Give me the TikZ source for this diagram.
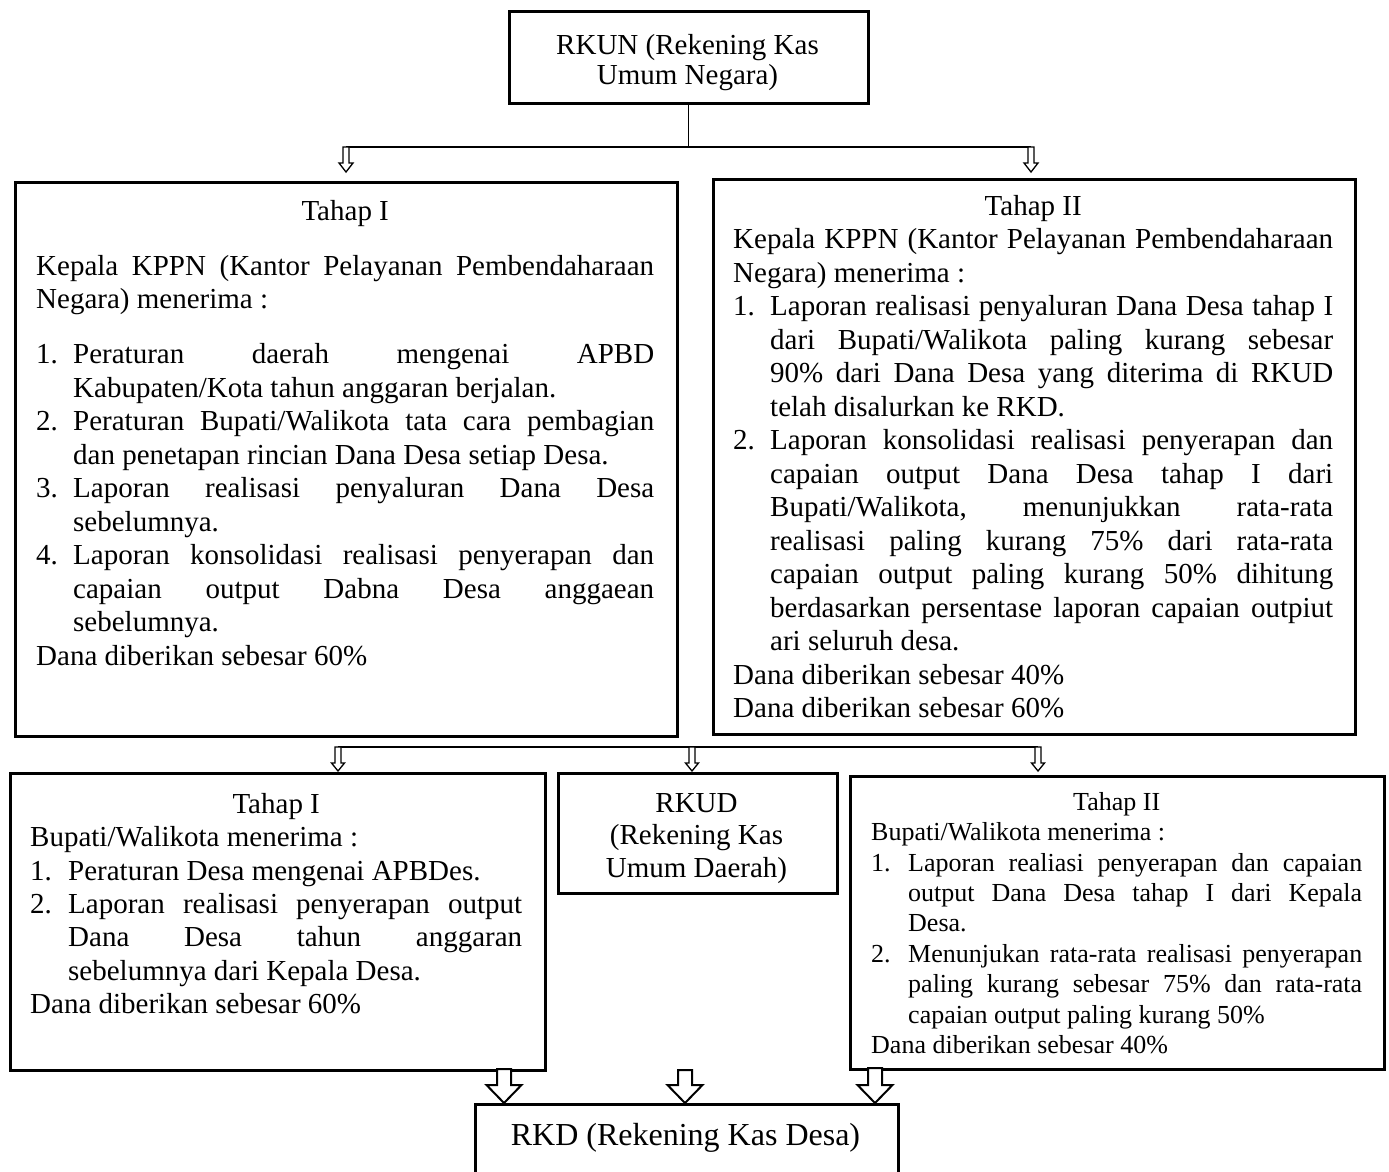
\documentclass[tikz,border=0pt]{standalone}
\usepackage{fontspec}
\setmainfont{Liberation Serif}
\usetikzlibrary{calc}
\newlength{\hind}
\newcommand{\numitem}[2]{\par\hangindent=\hind\hangafter=1\noindent\makebox[\hind][l]{#1}#2\par}
\newcommand{\boxsetup}[2]{\fontsize{#1}{#2}\selectfont\parindent=0pt\frenchspacing
  \spaceskip=0.25em plus 2em minus 0.05em\relax\xspaceskip=\spaceskip
  \tolerance=10000 \hbadness=10000 \hyphenpenalty=10000 \exhyphenpenalty=10000 }
\newcommand{\hollowarrow}[6][arr]{%
  \draw[#1] let \p1=(#2), \p2=(#3) in
    (\x1-#4,\y1) -- (\x1-#4,\y2+#6) -- (\x1-#5,\y2+#6) -- (\x1,\y2)
    -- (\x1+#5,\y2+#6) -- (\x1+#4,\y2+#6) -- (\x1+#4,\y1) -- cycle;}
\tikzset{
  boxnode/.style={draw, line width=2.6pt, rectangle, inner sep=0pt, anchor=north west},
  conn/.style={line width=1.3pt},
  arr/.style={draw, fill=white, line width=1.3pt, line join=miter},
  bigarr/.style={draw, fill=white, line width=2pt, line join=miter},
  txt/.style={inner sep=0pt, anchor=north west},
  ctxt/.style={inner sep=0pt, anchor=north},
}
\begin{document}
\begin{tikzpicture}[x=1pt,y=-1pt]
\useasboundingbox (0,0) rectangle (1389,1171);
\fill[white] (0,0) rectangle (1389,1171);
\clip (0,0) rectangle (1389,1171);

% boxes
\node[boxnode, minimum width=359pt, minimum height=92pt] (rkun) at (508,10) {};
\node[boxnode, minimum width=662pt, minimum height=554pt] (t1) at (14,181) {};
\node[boxnode, minimum width=642pt, minimum height=555pt] (t2) at (712,178) {};
\node[boxnode, minimum width=535pt, minimum height=297pt] (b1) at (9,772) {};
\node[boxnode, minimum width=279pt, minimum height=120pt] (rkud) at (557,772) {};
\node[boxnode, minimum width=534pt, minimum height=293pt] (b3) at (849,775) {};
\node[boxnode, minimum width=423pt, minimum height=100pt] (rkd) at (474,1103) {};

% texts
\node[ctxt] (rkuntxt) at (687.5,29) {\begin{minipage}[t]{340pt}\boxsetup{29pt}{30pt}\centering
\rule{0pt}{25pt}RKUN (Rekening Kas\\Umum Negara)\end{minipage}};

\node[txt] (t1txt) at (36,195) {\begin{minipage}[t]{618pt}\boxsetup{29pt}{33.5pt}\setlength{\hind}{37pt}%
{\centering\rule{0pt}{25pt}Tahap I\par}
\vskip 21.5pt
Kepala KPPN (Kantor Pelayanan Pembendaharaan\linebreak Negara) menerima :\par
\vskip 21.5pt
\numitem{1.}{Peraturan daerah mengenai APBD\linebreak Kabupaten/Kota tahun anggaran berjalan.}
\numitem{2.}{Peraturan Bupati/Walikota tata cara pembagian\linebreak dan penetapan rincian Dana Desa setiap Desa.}
\numitem{3.}{Laporan realisasi penyaluran Dana Desa\linebreak sebelumnya.}
\numitem{4.}{Laporan konsolidasi realisasi penyerapan dan\linebreak capaian output Dabna Desa anggaean\linebreak sebelumnya.}
Dana diberikan sebesar 60\%\par
\end{minipage}};

\node[txt] (t2txt) at (733,190) {\begin{minipage}[t]{600pt}\boxsetup{29pt}{33.5pt}\setlength{\hind}{37pt}%
{\centering\rule{0pt}{25pt}Tahap II\par}
Kepala KPPN (Kantor Pelayanan Pembendaharaan\linebreak Negara) menerima :\par
\numitem{1.}{Laporan realisasi penyaluran Dana Desa tahap I\linebreak dari Bupati/Walikota paling kurang sebesar\linebreak 90\% dari Dana Desa yang diterima di RKUD\linebreak telah disalurkan ke RKD.}
\numitem{2.}{Laporan konsolidasi realisasi penyerapan dan\linebreak capaian output Dana Desa tahap I dari\linebreak Bupati/Walikota, menunjukkan rata-rata\linebreak realisasi paling kurang 75\% dari rata-rata\linebreak capaian output paling kurang 50\% dihitung\linebreak berdasarkan persentase laporan capaian outpiut\linebreak ari seluruh desa.}
Dana diberikan sebesar 40\%\par
Dana diberikan sebesar 60\%\par
\end{minipage}};

\node[txt] (b1txt) at (30,788) {\begin{minipage}[t]{492pt}\boxsetup{29pt}{33.4pt}\setlength{\hind}{38pt}%
{\centering\rule{0pt}{25pt}Tahap I\par}
Bupati/Walikota menerima :\par
\numitem{1.}{Peraturan Desa mengenai APBDes.}
\numitem{2.}{Laporan realisasi penyerapan output\linebreak Dana Desa tahun anggaran\linebreak sebelumnya dari Kepala Desa.}
Dana diberikan sebesar 60\%\par
\end{minipage}};

\node[ctxt] (rkudtxt) at (696.5,787) {\begin{minipage}[t]{270pt}\boxsetup{29pt}{32.5pt}\centering
\rule{0pt}{25pt}RKUD\\(Rekening Kas\\Umum Daerah)\end{minipage}};

\node[txt] (b3txt) at (871,788) {\begin{minipage}[t]{491pt}\boxsetup{26pt}{30.4pt}\setlength{\hind}{37pt}%
{\centering\rule{0pt}{22pt}Tahap II\par}
Bupati/Walikota menerima :\par
\numitem{1.}{Laporan realiasi penyerapan dan capaian\linebreak output Dana Desa tahap I dari Kepala\linebreak Desa.}
\numitem{2.}{Menunjukan rata-rata realisasi penyerapan\linebreak paling kurang sebesar 75\% dan rata-rata\linebreak capaian output paling kurang 50\%}
Dana diberikan sebesar 40\%\par
\end{minipage}};

\node[ctxt] (rkdtxt) at (685.5,1117) {\begin{minipage}[t]{400pt}\boxsetup{32pt}{36pt}\centering
\rule{0pt}{28pt}RKD (Rekening Kas Desa)\end{minipage}};

% top connectors
\coordinate (ta1) at (346,147);
\coordinate (ta2) at (1031,147);
\coordinate (ta1e) at (346,172);
\coordinate (ta2e) at (1031,172);
\draw[conn] (rkun.south) -- (rkun.south |- ta1);
\draw[conn] (ta1) -- (ta2);
\hollowarrow{ta1}{ta1e}{3pt}{7pt}{9pt}
\hollowarrow{ta2}{ta2e}{3pt}{7pt}{9pt}

% middle connectors
\coordinate (ma1) at (338,747);
\coordinate (ma2) at (692,747);
\coordinate (ma3) at (1038,747);
\coordinate (ma1e) at (338,771);
\coordinate (ma2e) at (692,771);
\coordinate (ma3e) at (1038,771);
\draw[conn] (ma1) -- (ma3);
\hollowarrow{ma1}{ma1e}{3pt}{6.5pt}{8pt}
\hollowarrow{ma2}{ma2e}{3pt}{6.5pt}{8pt}
\hollowarrow{ma3}{ma3e}{3pt}{6.5pt}{8pt}

% bottom block arrows
\coordinate (ra1) at (504,1069);
\coordinate (ra2) at (685,1070);
\coordinate (ra3) at (875,1068);
\hollowarrow[bigarr]{ra1}{ra1 |- rkd.north}{7pt}{17.5pt}{18pt}
\hollowarrow[bigarr]{ra2}{ra2 |- rkd.north}{7pt}{17.5pt}{18pt}
\hollowarrow[bigarr]{ra3}{ra3 |- rkd.north}{7pt}{17.5pt}{18pt}
\end{tikzpicture}
\end{document}
